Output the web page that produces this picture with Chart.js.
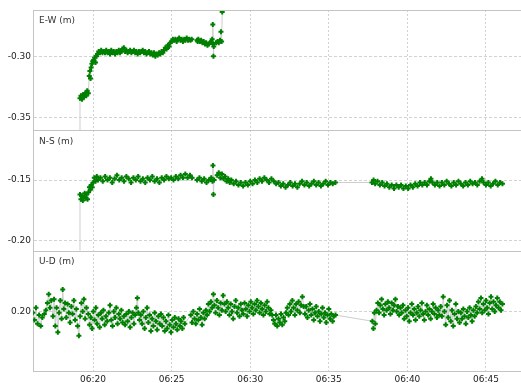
<!DOCTYPE html>
<html>
<head>
<meta charset="utf-8">
<script src="https://cdn.jsdelivr.net/npm/chart.js@4.4.1/dist/chart.umd.min.js"></script>
<style>
  html, body { margin: 0; padding: 0; background: #fff; overflow: hidden; }
  #chart { display: block; }
</style>
</head>
<body>
<canvas id="chart" width="521" height="383"></canvas>
<script>
// time = minutes after 06:00
const xTickValues = [20, 25, 30, 35, 40, 45];
const xTickLabels = ['06:20', '06:25', '06:30', '06:35', '06:40', '06:45'];

const panelTitles = ['E-W (m)', 'N-S (m)', 'U-D (m)'];
const ewTicks = [-0.35, -0.30];
const nsTicks = [-0.20, -0.15];
const udTicks = [0.20];

const ewTime = [19.12, 19.17, 19.23, 19.30, 19.37, 19.43, 19.50, 19.57, 19.63, 19.70, 19.76, 19.80, 19.84, 19.88, 19.93, 19.98,
  20.04, 20.10, 20.16, 20.22, 20.28, 20.36, 20.44, 20.52, 20.60, 20.68, 20.76, 20.84, 20.92, 21.00, 21.08, 21.16, 21.24, 21.32,
  21.40, 21.48, 21.56, 21.64, 21.72, 21.80, 21.88, 21.96, 22.04, 22.12, 22.20, 22.28, 22.36, 22.44, 22.52, 22.60, 22.68, 22.76,
  22.84, 22.92, 23.00, 23.08, 23.16, 23.24, 23.32, 23.40, 23.48, 23.56, 23.64, 23.72, 23.80, 23.88, 23.96, 24.04, 24.12, 24.20,
  24.28, 24.36, 24.44, 24.52, 24.60, 24.68, 24.76, 24.84, 24.92, 25.00, 25.08, 25.16, 25.24, 25.32, 25.40, 25.48, 25.56, 25.64,
  25.72, 25.80, 25.88, 25.96, 26.04, 26.12, 26.20, 26.28, 26.62, 26.66, 26.70, 26.80, 26.88, 26.96, 27.04, 27.12, 27.20, 27.28,
  27.36, 27.44, 27.52, 27.58, 27.62, 27.64, 27.66, 27.68, 27.84, 27.92, 28.00, 28.08, 28.14, 28.18, 28.22, 28.26];
const ewValue = [-0.40, -0.334, -0.332, -0.335, -0.331, -0.333, -0.330, -0.332, -0.328, -0.330, -0.316, -0.312, -0.318, -0.309, -0.306, -0.304,
  -0.303, -0.301, -0.305, -0.300, -0.298, -0.296, -0.297, -0.295, -0.297, -0.296, -0.297, -0.295, -0.297, -0.296, -0.298, -0.295, -0.297, -0.296,
  -0.298, -0.296, -0.297, -0.295, -0.297, -0.296, -0.294, -0.293, -0.296, -0.295, -0.297, -0.296, -0.295, -0.297, -0.296, -0.295, -0.297, -0.296,
  -0.298, -0.296, -0.297, -0.296, -0.295, -0.297, -0.296, -0.298, -0.297, -0.296, -0.298, -0.297, -0.299, -0.297, -0.300, -0.298, -0.299, -0.297,
  -0.298, -0.296, -0.297, -0.295, -0.293, -0.294, -0.291, -0.292, -0.289, -0.288, -0.286, -0.287, -0.286, -0.288, -0.286, -0.285, -0.287, -0.286,
  -0.288, -0.286, -0.287, -0.285, -0.287, -0.286, -0.287, -0.286, -0.287, -0.288, -0.286, -0.288, -0.287, -0.289, -0.288, -0.290, -0.289, -0.291,
  -0.290, -0.289, -0.288, -0.286, -0.274, -0.290, -0.300, -0.292, -0.289, -0.288, -0.289, -0.287, -0.280, -0.288, -0.264, -0.22];

const nsTime = [19.12, 19.17, 19.23, 19.29, 19.35, 19.41, 19.47, 19.53, 19.59, 19.65, 19.71, 19.77, 19.83, 19.89, 19.95, 20.01,
  20.08, 20.16, 20.24, 20.32, 20.47, 20.62, 20.77, 20.92, 21.07, 21.22, 21.37, 21.52, 21.67, 21.82, 21.97, 22.12, 22.27, 22.42,
  22.57, 22.72, 22.87, 23.02, 23.17, 23.32, 23.47, 23.62, 23.77, 23.92, 24.07, 24.22, 24.37, 24.52, 24.67, 24.82, 24.97, 25.12,
  25.27, 25.42, 25.57, 25.72, 25.87, 26.02, 26.17, 26.30, 26.62, 26.77, 26.92, 27.07, 27.22, 27.37, 27.52, 27.60, 27.63, 27.66,
  27.70, 27.90, 28.00, 28.10, 28.20, 28.30, 28.40, 28.50, 28.60, 28.70, 28.80, 28.95, 29.10, 29.25, 29.40, 29.55, 29.70, 29.85,
  30.00, 30.15, 30.30, 30.45, 30.60, 30.75, 30.90, 31.05, 31.20, 31.35, 31.50, 31.65, 31.80, 31.95, 32.10, 32.25, 32.40, 32.55,
  32.70, 32.85, 33.00, 33.15, 33.30, 33.45, 33.60, 33.75, 33.90, 34.05, 34.20, 34.35, 34.50, 34.65, 34.80, 34.95, 35.10, 35.25,
  35.42, 37.75, 37.85, 37.95, 38.10, 38.25, 38.40, 38.55, 38.70, 38.85, 39.00, 39.15, 39.30, 39.45, 39.60, 39.75, 39.90, 40.05,
  40.20, 40.35, 40.50, 40.65, 40.80, 40.95, 41.10, 41.25, 41.40, 41.50, 41.60, 41.75, 41.90, 42.05, 42.20, 42.35, 42.50, 42.65,
  42.80, 42.95, 43.10, 43.25, 43.40, 43.55, 43.70, 43.85, 44.00, 44.15, 44.30, 44.45, 44.60, 44.75, 44.85, 45.00, 45.15, 45.30,
  45.45, 45.60, 45.75, 45.90, 46.05];
const nsValue = [-0.26, -0.162, -0.166, -0.163, -0.167, -0.164, -0.161, -0.165, -0.162, -0.166, -0.160, -0.156, -0.158, -0.154, -0.156, -0.152,
  -0.148, -0.151, -0.147, -0.150, -0.148, -0.151, -0.147, -0.150, -0.148, -0.152, -0.149, -0.146, -0.150, -0.148, -0.151, -0.147, -0.149, -0.152,
  -0.148, -0.150, -0.147, -0.151, -0.149, -0.152, -0.148, -0.150, -0.147, -0.151, -0.149, -0.152, -0.148, -0.150, -0.147, -0.149, -0.148, -0.150,
  -0.147, -0.149, -0.146, -0.148, -0.145, -0.148, -0.146, -0.148, -0.150, -0.148, -0.151, -0.149, -0.152, -0.150, -0.148, -0.151, -0.138, -0.162,
  -0.150, -0.146, -0.144, -0.148, -0.145, -0.149, -0.147, -0.151, -0.149, -0.152, -0.150, -0.153, -0.151, -0.154, -0.152, -0.155, -0.152, -0.154,
  -0.151, -0.153, -0.150, -0.152, -0.149, -0.151, -0.148, -0.150, -0.152, -0.149, -0.151, -0.153, -0.152, -0.155, -0.153, -0.156, -0.154, -0.152,
  -0.155, -0.153, -0.156, -0.153, -0.151, -0.154, -0.152, -0.155, -0.153, -0.151, -0.154, -0.152, -0.155, -0.153, -0.151, -0.154, -0.152, -0.153,
  -0.152, -0.152, -0.150, -0.153, -0.151, -0.154, -0.152, -0.155, -0.153, -0.156, -0.154, -0.157, -0.154, -0.156, -0.154, -0.157, -0.155, -0.157,
  -0.154, -0.156, -0.153, -0.155, -0.152, -0.154, -0.152, -0.154, -0.151, -0.149, -0.152, -0.154, -0.152, -0.155, -0.152, -0.154, -0.151, -0.153,
  -0.155, -0.152, -0.154, -0.151, -0.153, -0.155, -0.152, -0.154, -0.151, -0.153, -0.152, -0.154, -0.151, -0.149, -0.152, -0.154, -0.152, -0.155,
  -0.153, -0.151, -0.154, -0.152, -0.153];

const udTime = [16.17, 16.27, 16.37, 16.47, 16.57, 16.67, 16.77, 16.90, 17.00, 17.10, 17.18, 17.26, 17.34, 17.45, 17.52, 17.60,
  17.68, 17.76, 17.84, 17.92, 18.00, 18.07, 18.14, 18.22, 18.30, 18.38, 18.46, 18.54, 18.62, 18.70, 18.78, 18.86, 18.94, 19.02,
  19.10, 19.18, 19.26, 19.34, 19.42, 19.50, 19.58, 19.70, 19.78, 19.86, 19.94, 20.02, 20.10, 20.18, 20.26, 20.34, 20.42, 20.50,
  20.58, 20.66, 20.74, 20.82, 20.90, 21.00, 21.08, 21.16, 21.24, 21.32, 21.40, 21.48, 21.56, 21.64, 21.72, 21.80, 21.88, 21.96,
  22.04, 22.12, 22.20, 22.28, 22.36, 22.44, 22.52, 22.60, 22.68, 22.76, 22.82, 22.88, 22.96, 23.04, 23.12, 23.20, 23.28, 23.36,
  23.44, 23.52, 23.60, 23.68, 23.76, 23.84, 23.92, 24.00, 24.08, 24.16, 24.24, 24.32, 24.40, 24.48, 24.56, 24.64, 24.72, 24.80,
  24.88, 24.96, 25.04, 25.12, 25.20, 25.28, 25.36, 25.44, 25.52, 25.60, 25.68, 25.76, 25.84, 26.22, 26.30, 26.38, 26.46, 26.54,
  26.62, 26.70, 26.78, 26.86, 26.94, 27.02, 27.10, 27.18, 27.26, 27.34, 27.42, 27.50, 27.58, 27.66, 27.72, 27.80, 27.88, 27.96,
  28.04, 28.12, 28.20, 28.28, 28.36, 28.44, 28.52, 28.60, 28.68, 28.76, 28.84, 28.92, 29.00, 29.08, 29.16, 29.24, 29.32, 29.40,
  29.48, 29.56, 29.64, 29.72, 29.80, 29.88, 29.96, 30.04, 30.12, 30.20, 30.28, 30.36, 30.44, 30.52, 30.60, 30.68, 30.76, 30.84,
  30.92, 31.00, 31.08, 31.16, 31.24, 31.32, 31.40, 31.48, 31.56, 31.64, 31.72, 31.80, 31.88, 31.96, 32.04, 32.12, 32.20, 32.28,
  32.36, 32.44, 32.52, 32.60, 32.68, 32.76, 32.84, 32.92, 33.00, 33.08, 33.16, 33.24, 33.32, 33.40, 33.48, 33.56, 33.64, 33.72,
  33.80, 33.88, 33.96, 34.04, 34.12, 34.20, 34.28, 34.36, 34.44, 34.52, 34.60, 34.68, 34.76, 34.84, 34.92, 35.00, 35.08, 35.16,
  35.24, 35.32, 35.43, 37.77, 37.84, 37.90, 37.96, 38.04, 38.12, 38.20, 38.28, 38.36, 38.44, 38.52, 38.60, 38.68, 38.76, 38.84,
  38.92, 39.00, 39.08, 39.16, 39.24, 39.32, 39.40, 39.48, 39.56, 39.64, 39.72, 39.80, 39.88, 39.96, 40.04, 40.12, 40.20, 40.28,
  40.36, 40.44, 40.52, 40.60, 40.68, 40.76, 40.84, 40.92, 41.00, 41.08, 41.16, 41.24, 41.32, 41.40, 41.48, 41.56, 41.64, 41.72,
  41.80, 41.88, 41.96, 42.04, 42.12, 42.20, 42.28, 42.36, 42.44, 42.52, 42.60, 42.68, 42.76, 42.84, 42.92, 43.00, 43.08, 43.16,
  43.24, 43.32, 43.40, 43.48, 43.56, 43.64, 43.72, 43.80, 43.88, 43.96, 44.04, 44.12, 44.20, 44.28, 44.36, 44.44, 44.52, 44.60,
  44.68, 44.76, 44.84, 44.92, 45.00, 45.08, 45.16, 45.24, 45.32, 45.40, 45.48, 45.56, 45.64, 45.72, 45.80, 45.88, 45.96, 46.05];
const udValue = [0.199, 0.193, 0.203, 0.190, 0.197, 0.188, 0.195, 0.198, 0.201, 0.207, 0.214, 0.203, 0.209, 0.196, 0.210, 0.188,
  0.203, 0.183, 0.199, 0.209, 0.194, 0.218, 0.202, 0.207, 0.195, 0.206, 0.199, 0.191, 0.204, 0.198, 0.209, 0.193, 0.202, 0.188,
  0.180, 0.196, 0.207, 0.200, 0.210, 0.194, 0.203, 0.198, 0.189, 0.195, 0.186, 0.200, 0.193, 0.203, 0.190, 0.197, 0.187, 0.199,
  0.194, 0.201, 0.189, 0.196, 0.192, 0.199, 0.205, 0.193, 0.188, 0.200, 0.195, 0.203, 0.190, 0.198, 0.194, 0.201, 0.191, 0.196,
  0.189, 0.198, 0.192, 0.200, 0.187, 0.195, 0.199, 0.190, 0.197, 0.203, 0.211, 0.199, 0.193, 0.197, 0.190, 0.200, 0.186, 0.195,
  0.203, 0.191, 0.197, 0.184, 0.194, 0.188, 0.199, 0.192, 0.185, 0.196, 0.190, 0.198, 0.188, 0.195, 0.184, 0.192, 0.186, 0.197,
  0.189, 0.183, 0.193, 0.187, 0.195, 0.190, 0.185, 0.194, 0.188, 0.192, 0.186, 0.195, 0.190, 0.197, 0.191, 0.200, 0.194, 0.190,
  0.198, 0.193, 0.202, 0.195, 0.189, 0.199, 0.194, 0.201, 0.197, 0.206, 0.200, 0.208, 0.203, 0.214, 0.205, 0.199, 0.209, 0.203,
  0.197, 0.207, 0.201, 0.213, 0.206, 0.200, 0.208, 0.203, 0.197, 0.206, 0.200, 0.194, 0.204, 0.209, 0.199, 0.203, 0.196, 0.206,
  0.201, 0.198, 0.207, 0.202, 0.196, 0.205, 0.200, 0.208, 0.203, 0.198, 0.206, 0.201, 0.209, 0.204, 0.199, 0.207, 0.202, 0.197,
  0.205, 0.200, 0.208, 0.203, 0.198, 0.201, 0.197, 0.193, 0.190, 0.197, 0.188, 0.194, 0.191, 0.198, 0.189, 0.195, 0.192, 0.199,
  0.203, 0.197, 0.206, 0.200, 0.209, 0.203, 0.197, 0.206, 0.201, 0.208, 0.199, 0.205, 0.212, 0.204, 0.198, 0.204, 0.195, 0.201,
  0.206, 0.197, 0.202, 0.193, 0.199, 0.204, 0.196, 0.200, 0.192, 0.198, 0.203, 0.195, 0.199, 0.191, 0.197, 0.202, 0.194, 0.198,
  0.192, 0.196, 0.197, 0.192, 0.186, 0.199, 0.190, 0.201, 0.207, 0.199, 0.205, 0.210, 0.202, 0.197, 0.206, 0.201, 0.208, 0.203,
  0.198, 0.207, 0.201, 0.205, 0.210, 0.200, 0.204, 0.197, 0.203, 0.199, 0.205, 0.194, 0.201, 0.196, 0.203, 0.192, 0.199, 0.206,
  0.197, 0.202, 0.193, 0.199, 0.204, 0.196, 0.201, 0.207, 0.198, 0.193, 0.200, 0.205, 0.197, 0.202, 0.194, 0.200, 0.206, 0.198,
  0.203, 0.195, 0.201, 0.197, 0.204, 0.196, 0.212, 0.200, 0.189, 0.205, 0.195, 0.209, 0.192, 0.201, 0.188, 0.198, 0.206, 0.194,
  0.200, 0.191, 0.199, 0.194, 0.202, 0.196, 0.190, 0.200, 0.195, 0.203, 0.197, 0.192, 0.201, 0.196, 0.204, 0.199, 0.208, 0.202,
  0.211, 0.199, 0.206, 0.201, 0.209, 0.203, 0.198, 0.207, 0.212, 0.202, 0.208, 0.200, 0.205, 0.211, 0.203, 0.208, 0.201, 0.206];

const FONT = { family: 'DejaVu Sans', size: 9 };
const GREEN = '#008000';

function toPoints(times, values) {
  return times.map((t, i) => ({ x: t, y: values[i] }));
}

function makeDataset(label, times, values, axisId) {
  return {
    label,
    data: toPoints(times, values),
    yAxisID: axisId,
    borderColor: '#cdcdcd',
    borderWidth: 1,
    pointStyle: 'cross',
    pointRadius: 2.5,
    pointBorderWidth: 2,
    pointBorderColor: GREEN,
    pointBackgroundColor: GREEN,
    tension: 0,
    fill: false,
  };
}

function panelScale(min, max, ticks) {
  return {
    type: 'linear',
    position: 'left',
    stack: 'panels',
    stackWeight: 1,
    min,
    max,
    afterBuildTicks: (scale) => {
      scale.ticks = ticks.map((value) => ({ value }));
    },
    afterFit: (scale) => {
      scale.width = 33;
    },
    grid: { color: '#d2d2d2', drawTicks: false },
    border: { color: '#c4c4c4', dash: [3, 2] },
    ticks: { padding: 2, color: '#222', font: FONT, callback: (value) => value.toFixed(2) },
  };
}

const panelAxes = ['yEW', 'yNS', 'yUD'];

// clip each series to its own panel, draw panel separators and titles
const panelPlugin = {
  id: 'panels',
  beforeDatasetDraw(chart, args) {
    const scale = chart.scales[args.meta.yAxisID];
    const { ctx, chartArea } = chart;
    ctx.save();
    ctx.beginPath();
    ctx.rect(chartArea.left, scale.top, chartArea.right - chartArea.left, scale.bottom - scale.top);
    ctx.clip();
  },
  afterDatasetDraw(chart) {
    chart.ctx.restore();
  },
  afterDraw(chart) {
    const { ctx, chartArea } = chart;
    ctx.save();
    ctx.strokeStyle = '#c4c4c4';
    ctx.lineWidth = 1;
    panelAxes.forEach((id, index) => {
      const scale = chart.scales[id];
      const y = Math.round(scale.top) + 0.5;
      ctx.beginPath();
      ctx.moveTo(chartArea.left, y);
      ctx.lineTo(chartArea.right, y);
      ctx.stroke();
      ctx.fillStyle = '#333';
      ctx.font = '9px "DejaVu Sans"';
      ctx.textBaseline = 'middle';
      ctx.fillText(panelTitles[index], chartArea.left + 6, scale.top + 11);
    });
    ctx.restore();
  },
};

new Chart(document.getElementById('chart'), {
  type: 'line',
  data: {
    datasets: [
      makeDataset('E-W', ewTime, ewValue, 'yEW'),
      makeDataset('N-S', nsTime, nsValue, 'yNS'),
      makeDataset('U-D', udTime, udValue, 'yUD'),
    ],
  },
  options: {
    responsive: false,
    animation: false,
    devicePixelRatio: 1,
    layout: { autoPadding: false, padding: { top: 10, right: 0, left: 0, bottom: 0 } },
    plugins: { legend: { display: false }, tooltip: { enabled: false } },
    scales: {
      x: {
        type: 'linear',
        min: 16.18,
        max: 47.23,
        afterBuildTicks: (scale) => {
          scale.ticks = xTickValues.map((value) => ({ value }));
        },
        afterFit: (scale) => {
          scale.height = 12;
          scale.paddingLeft = 0;
          scale.paddingRight = 0;
        },
        grid: { color: '#d2d2d2', drawTicks: false },
        border: { color: '#c4c4c4', dash: [2, 2] },
        ticks: {
          padding: 3,
          color: '#222',
          font: FONT,
          maxRotation: 0,
          autoSkip: false,
          callback: (value, index) => xTickLabels[index],
        },
      },
      yUD: panelScale(0.1512, 0.2498, udTicks),
      yNS: panelScale(-0.2085, -0.1088, nsTicks),
      yEW: panelScale(-0.3602, -0.2623, ewTicks),
    },
  },
  plugins: [panelPlugin],
});
</script>
</body>
</html>
